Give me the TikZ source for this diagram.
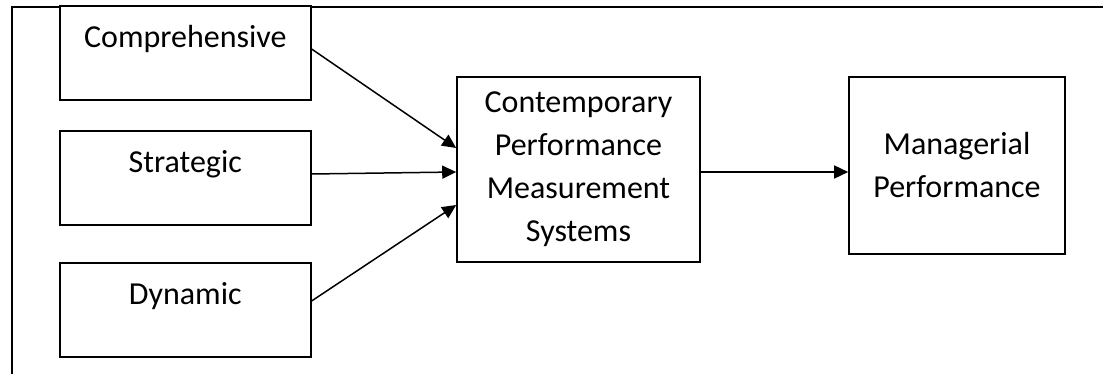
\documentclass[tikz,border=0pt]{standalone}
\usepackage{fontspec}
\setmainfont{Carlito}
\usetikzlibrary{arrows.meta}
\begin{document}
\begin{tikzpicture}[x=1pt,y=-1pt,
  box/.style={draw, line width=1.6pt, inner sep=0pt, align=center, font=\fontsize{32}{43}\selectfont},
  leftbox/.style={box, minimum width=251pt, text height=42pt, text depth=52pt},
  conn/.style={line width=1.5pt, -{Triangle[length=14pt,width=13pt]}},
  frame/.style={line width=1.4pt}]
\useasboundingbox (0,0) rectangle (1103,374);
\coordinate (ftl) at (12,7);
\coordinate (fbl) at (12,374);
\coordinate (ftr) at (1103,7);
\draw[frame] (fbl) -- (ftl) -- (ftr);
\node[leftbox, anchor=north west, fill=white] (comp) at (59,5) {Comprehensive};
\node[leftbox, anchor=north west] (strat) at (59,130) {Strategic};
\node[leftbox, anchor=north west] (dyn) at (59,262) {Dynamic};
\node[box, minimum width=243pt, minimum height=185pt] (cpms) at (578.5,169.5) {Contemporary\\Performance\\Measurement\\Systems};
\node[box, minimum width=216pt, minimum height=177pt] (mp) at (957,165.5) {Managerial\\Performance};
\draw[conn] (comp.east |- 0,49) -- (cpms.west |- 0,148);
\draw[conn] (strat.east |- 0,174) -- (cpms.west |- 0,172);
\draw[conn] (dyn.east |- 0,301) -- (cpms.west |- 0,205);
\draw[conn] (cpms.east |- 0,172) -- (mp.west |- 0,172);
\end{tikzpicture}
\end{document}
